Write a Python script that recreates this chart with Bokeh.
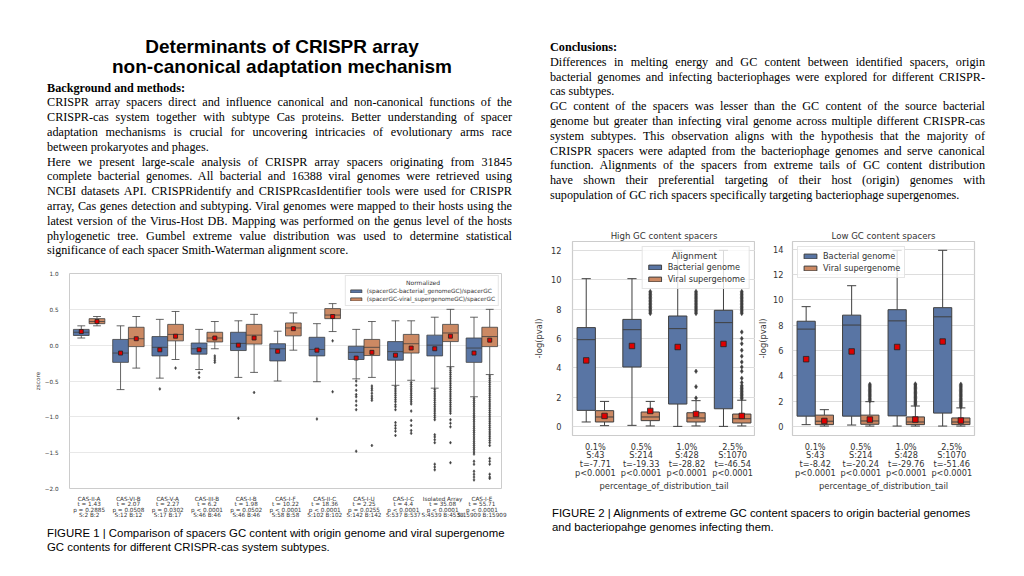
from bokeh.plotting import figure
from bokeh.models import Range1d, FixedTicker, Div, Legend, LegendItem, ColumnDataSource
from bokeh.layouts import row, column
from bokeh.embed import file_html
from bokeh.resources import INLINE

# ---------------- Figure 1 data ----------------
f1_names = ["CAS-II-A", "CAS-VI-B", "CAS-V-A", "CAS-III-B", "CAS-I-B", "CAS-I-F",
            "CAS-II-C", "CAS-I-U", "CAS-I-C", "Isolated Array", "CAS-I-E"]
f1_t = ["1.43", "2.07", "2.27", "6.2", "1.98", "10.22", "18.36", "2.25", "4.4", "35.08", "55.71"]
f1_p = ["= 0.2885", "= 0.0508", "= 0.0302", "< 0.0001", "= 0.0502", "< 0.0001",
        "< 0.0001", "= 0.0255", "< 0.0001", "< 0.0001", "< 0.0001"]
f1_n = [2, 12, 17, 46, 46, 58, 102, 142, 537, 4539, 15909]

bact_lo = [0.10, -0.62, -0.46, -0.34, -0.45, -0.50, -0.51, -0.47, -0.56, -0.60, -0.72]
bact_q1 = [0.135, -0.24, -0.15, -0.125, -0.075, -0.22, -0.15, -0.20, -0.21, -0.15, -0.24]
bact_med = [0.18, -0.11, -0.03, -0.05, 0.025, -0.05, -0.06, -0.10, -0.09, 0.0, -0.04]
bact_q3 = [0.22, 0.08, 0.12, 0.03, 0.18, 0.02, 0.11, -0.015, 0.05, 0.14, 0.10]
bact_hi = [0.27, 0.27, 0.36, 0.22, 0.34, 0.195, 0.30, 0.22, 0.34, 0.39, 0.39]
bact_mean = [0.19, -0.11, -0.065, -0.065, 0.0, -0.085, -0.07, -0.18, -0.14, -0.05, -0.11]
bact_out = [
    [], [], [-0.61], [-0.385, -0.45], [-1.02], [], [-1.03],
    [-0.50, -0.56, -0.63, -0.69, -0.72, -0.78, -0.84, -0.90, -1.48],
    [-0.58, -0.61, -0.64, -0.67, -0.70, -0.73, -0.76, -0.79, -0.83, -0.86, -0.90,
     -1.08, -1.12, -1.16, -1.20, -1.26],
    [-0.62, -0.65, -0.68, -0.71, -0.74, -0.77, -0.80, -0.83, -0.86, -0.89, -0.92,
     -0.95, -0.98, -1.01, -1.04, -1.25, -1.28, -1.32, -1.36, -1.66, -1.70, -1.74],
    [-0.74, -0.77, -0.80, -0.83, -0.86, -0.89, -0.92, -0.95, -0.98, -1.01, -1.04,
     -1.07, -1.10, -1.13, -1.16, -1.19, -1.22, -1.25, -1.28, -1.31, -1.34, -1.37,
     -1.40, -1.43, -1.46, -1.49, -1.52, -1.62, -1.66, -1.76, -1.80, -1.84, -1.88],
]

vir_lo = [0.27, -0.32, -0.20, -0.05, -0.38, -0.07, 0.19, -0.45, -0.49, -0.30, -0.41]
vir_q1 = [0.30, -0.02, 0.06, 0.045, 0.015, 0.13, 0.37, -0.145, -0.11, 0.05, -0.02]
vir_med = [0.33, 0.09, 0.15, 0.10, 0.14, 0.24, 0.42, -0.03, 0.02, 0.17, 0.12]
vir_q3 = [0.37, 0.25, 0.29, 0.18, 0.29, 0.31, 0.51, 0.08, 0.15, 0.29, 0.25]
vir_hi = [0.40, 0.40, 0.47, 0.33, 0.43, 0.45, 0.58, 0.33, 0.34, 0.50, 0.50]
vir_mean = [0.33, 0.09, 0.125, 0.10, 0.10, 0.23, 0.40, -0.10, -0.04, 0.125, 0.07]
vir_out = [
    [], [], [-0.32], [-0.15, -0.18, -0.21, -0.24], [-0.66], [], [0.06, -0.65],
    [-0.57, -0.60, -0.63, -0.67, -0.71, -0.74, -0.77, -1.40],
    [-0.52, -0.55, -0.58, -0.61, -0.64, -0.67, -0.70, -0.73, -0.76, -0.79, -0.82,
     -0.92, -1.05, -1.12, -1.19, -1.23],
    [-0.32, -0.35, -0.38, -0.41, -0.44, -0.47, -0.50, -0.53, -0.56, -0.59, -0.62,
     -0.65, -0.68, -0.71, -0.74, -0.77, -0.80, -0.83, -0.86, -0.89, -0.92, -0.95,
     -1.04, -1.09, -1.14, -1.36, -1.64],
    [-0.43, -0.46, -0.49, -0.52, -0.55, -0.58, -0.61, -0.64, -0.67, -0.70, -0.73,
     -0.76, -0.79, -0.82, -0.85, -0.88, -0.91, -0.94, -0.97, -1.00, -1.03, -1.06,
     -1.09, -1.12, -1.15, -1.18, -1.21, -1.24, -1.27, -1.30, -1.33, -1.36, -1.40,
     -1.58, -1.62, -1.66, -1.80, -1.84, -1.86],
]
f1_yticks = [-2.0, -1.5, -1.0, -0.5, 0.0, 0.5, 1.0]
f1_ytick_labels = ["\u22122.0", "\u22121.5", "\u22121.0", "\u22120.5", "0.0", "0.5", "1.0"]
f1_legend_title = "Normalized"
f1_legend = ["(spacerGC-bacterial_genomeGC)/spacerGC", "(spacerGC-viral_supergenomeGC)/spacerGC"]

# ---------------- Figure 2 data ----------------
tails = ["0.1%", "0.5%", "1.0%", "2.5%"]
tail_S = [43, 214, 428, 1070]
high_t = ["-7.71", "-19.33", "-28.82", "-46.54"]
low_t = ["-8.42", "-20.24", "-29.76", "-51.46"]
tail_p = ["<0.0001", "<0.0001", "<0.0001", "<0.0001"]

hb_lo = [0.32, 0.09, 0.02, 0.02]
hb_q1 = [1.11, 4.06, 1.54, 1.22]
hb_med = [5.92, 6.60, 6.67, 7.08]
hb_q3 = [6.74, 7.30, 7.53, 7.92]
hb_hi = [10.07, 10.07, 12.0, 12.0]
hb_mean = [4.51, 5.49, 5.42, 5.63]
hb_out = [[], [], [], []]

hv_lo = [0.07, 0.05, 0.05, 0.05]
hv_q1 = [0.32, 0.41, 0.32, 0.25]
hv_med = [0.66, 0.66, 0.59, 0.54]
hv_q3 = [1.09, 1.00, 0.95, 0.86]
hv_hi = [1.72, 1.72, 1.77, 1.80]
hv_mean = [0.73, 1.07, 0.86, 0.73]
hv_out = [
    [],
    [7.7, 7.8, 7.9, 8.0, 8.1, 8.2, 8.3, 8.4, 8.5, 8.6, 8.7, 8.8, 8.9, 9.0, 9.1, 9.2],
    [1.95, 2.72, 3.77, 7.7, 7.8, 7.9, 8.0, 8.1, 8.2, 8.3, 8.4, 8.5, 8.6, 8.7, 8.8,
     8.9, 9.0, 9.1, 9.2],
    [1.9, 2.0, 2.1, 2.2, 2.3, 2.4, 2.5, 2.6, 2.7, 2.8, 3.0, 3.3, 3.77, 4.06, 4.4,
     4.8, 5.2, 5.65, 6.0, 6.44, 7.7, 7.8, 7.9, 8.0, 8.1, 8.2, 8.3, 8.4, 8.5, 8.6,
     8.7, 8.8, 8.9, 9.0, 9.1, 9.2],
]

lb_lo = [0.16, 0.13, 0.05, 0.05]
lb_q1 = [0.83, 0.83, 0.85, 1.07]
lb_med = [7.69, 8.01, 8.34, 8.66]
lb_q3 = [8.31, 8.79, 9.22, 9.38]
lb_hi = [9.46, 11.11, 13.9, 13.9]
lb_mean = [5.32, 5.93, 6.28, 6.71]
lb_out = [[], [], [], []]

lv_lo = [0.05, 0.05, 0.05, 0.05]
lv_q1 = [0.16, 0.19, 0.16, 0.16]
lv_med = [0.43, 0.45, 0.37, 0.37]
lv_q3 = [0.91, 0.91, 0.77, 0.69]
lv_hi = [1.34, 1.97, 1.63, 1.48]
lv_mean = [0.45, 0.56, 0.56, 0.48]
lv_out = [
    [],
    [2.05, 2.15, 2.25, 2.35, 2.45, 2.55, 2.65, 2.75, 2.85, 2.95, 3.05, 3.15, 3.25, 3.35],
    [1.72, 1.8, 1.9, 2.0, 2.1, 2.2, 2.3, 2.4, 2.5, 2.6, 2.7, 2.8, 2.9, 3.0, 3.1,
     3.2, 3.3, 3.37],
    [1.55, 1.65, 1.75, 1.85, 1.95, 2.05, 2.15, 2.25, 2.35, 2.45, 2.55, 2.65, 2.75,
     2.85, 2.95, 3.05, 3.15, 3.25, 3.35],
]
f2_legend_title = "Alignment"
f2_legend = ["Bacterial genome", "Viral supergenome"]

# ---------------- Texts ----------------
title_lines = ["Determinants of CRISPR array", "non-canonical adaptation mechanism"]
bg_head = "Background and methods:"
bg_pars = [
    ["CRISPR array spacers direct and influence canonical and non-canonical functions of the",
     "CRISPR-cas system together with subtype Cas proteins. Better understanding of spacer",
     "adaptation mechanisms is crucial for uncovering intricacies of evolutionary arms race",
     "between prokaryotes and phages."],
    ["Here we present large-scale analysis of CRISPR array spacers originating from 31845",
     "complete bacterial genomes. All bacterial and 16388 viral genomes were retrieved using",
     "NCBI datasets API. CRISPRidentify and CRISPRcasIdentifier tools were used for CRISPR",
     "array, Cas genes detection and subtyping. Viral genomes were mapped to their hosts using the",
     "latest version of the Virus-Host DB. Mapping was performed on the genus level of the hosts",
     "phylogenetic tree. Gumbel extreme value distribution was used to determine statistical",
     "significance of each spacer Smith-Waterman alignment score."],
]
con_head = "Conclusions:"
con_pars = [
    ["Differences in melting energy and GC content between identified spacers, origin",
     "bacterial genomes and infecting bacteriophages were explored for different CRISPR-",
     "cas subtypes."],
    ["GC content of the spacers was lesser than the GC content of the source bacterial",
     "genome but greater than infecting viral genome across multiple different CRISPR-cas",
     "system subtypes. This observation aligns with the hypothesis that the majority of",
     "CRISPR spacers were adapted from the bacteriophage genomes and serve canonical",
     "function. Alignments of the spacers from extreme tails of GC content distribution",
     "have shown their preferential targeting of their host (origin) genomes with",
     "supopulation of GC rich spacers specifically targeting bacteriophage supergenomes."],
]
cap1_lines = ["FIGURE 1 | Comparison of spacers GC content with origin genome and viral supergenome",
              "GC contents for different CRISPR-cas system subtypes."]
cap2_lines = ["FIGURE 2 | Alignments of extreme GC content spacers to origin bacterial genomes",
              "and bacteriopahge genomes infecting them."]

FONT = "DejaVu Sans"
BLUE = "#5975a4"
ORANGE = "#cc8963"
EDGE = "#3f3f3f"
SERIF = "'Liberation Serif','Times New Roman',serif"
SANS = "'Liberation Sans',Arial,sans-serif"
NBSP = "\u00a0"


def draw_boxes(p, off, width, lo, q1, med, q3, hi, mean, outs, color, lw, cap_w, out_size, mean_size):
    xs = [i + off for i in range(len(lo))]
    src = ColumnDataSource(dict(
        x=xs, left=[x - width / 2 for x in xs], right=[x + width / 2 for x in xs],
        cl=[x - cap_w / 2 for x in xs], cr=[x + cap_w / 2 for x in xs],
        lo=lo, q1=q1, med=med, q3=q3, hi=hi, mean=mean))
    kw = dict(source=src, line_color=EDGE, line_width=lw)
    p.segment('x', 'q3', 'x', 'hi', **kw)
    p.segment('x', 'lo', 'x', 'q1', **kw)
    p.segment('cl', 'hi', 'cr', 'hi', **kw)
    p.segment('cl', 'lo', 'cr', 'lo', **kw)
    box = p.quad(left='left', right='right', bottom='q1', top='q3', fill_color=color, **kw)
    p.segment('left', 'med', 'right', 'med', **kw)
    ox = [x for x, o in zip(xs, outs) for _ in o]
    oy = [v for o in outs for v in o]
    p.scatter(x=ox, y=oy, marker='diamond', size=out_size, fill_color=EDGE, line_color=EDGE, line_width=0.5)
    p.scatter('x', 'mean', source=src, marker='square', size=mean_size,
              fill_color='#e00000', line_color='#222222', line_width=0.8)
    return box


def style(p, tick_size, grid_color, lh):
    p.background_fill_color = "white"
    p.border_fill_color = "white"
    p.outline_line_color = "#cccccc"
    p.outline_line_width = 1
    p.xgrid.visible = False
    p.ygrid.grid_line_color = grid_color
    p.ygrid.grid_line_width = 1
    for ax in p.axis:
        ax.axis_line_color = None
        ax.major_tick_line_color = None
        ax.minor_tick_line_color = None
        ax.major_label_text_font = FONT
        ax.major_label_text_font_size = tick_size
        ax.major_label_text_color = "#333333"
        ax.major_label_text_line_height = lh
        ax.axis_label_text_font = FONT
        ax.axis_label_text_font_style = "normal"
        ax.axis_label_text_color = "#333333"
        ax.axis_label_text_font_size = tick_size


def style_legend(leg, title_size, label_size):
    leg.title_text_font = FONT
    leg.title_text_font_size = title_size
    leg.title_text_font_style = "normal"
    leg.title_text_color = "#333333"
    leg.title_standoff = 1
    leg.label_text_font = FONT
    leg.label_text_font_size = label_size
    leg.label_text_color = "#333333"
    leg.border_line_color = "#cccccc"
    leg.background_fill_alpha = 0.8


# ---------------- Figure 1 ----------------
n1 = len(f1_names)
p1 = figure(width=496, height=258, x_range=Range1d(-0.5, n1 - 0.5), y_range=Range1d(-2.0, 1.0),
            output_backend="svg", toolbar_location=None,
            min_border_left=53, min_border_right=11, min_border_top=8, min_border_bottom=35,
            margin=(6, 0, 0, 8))
style(p1, "5.7px", "#e8e8e8", 0.92)
p1.xaxis.ticker = FixedTicker(ticks=list(range(n1)))
p1.xaxis.major_label_overrides = {
    i: f"{f1_names[i]}\nt = {f1_t[i]}\np {f1_p[i]}\nS:{f1_n[i]} B:{f1_n[i]}" for i in range(n1)}
p1.xaxis.major_label_standoff = 1
p1.yaxis.ticker = FixedTicker(ticks=f1_yticks)
p1.yaxis.major_label_overrides = {v: s for v, s in zip(f1_yticks, f1_ytick_labels)}
p1.yaxis.major_label_standoff = 5
p1.yaxis.axis_label = "zscore"
p1.yaxis.axis_label_standoff = 1

b1 = draw_boxes(p1, -0.2, 0.4, bact_lo, bact_q1, bact_med, bact_q3, bact_hi, bact_mean, bact_out,
                BLUE, 0.8, 0.2, 3, 4)
v1 = draw_boxes(p1, 0.2, 0.4, vir_lo, vir_q1, vir_med, vir_q3, vir_hi, vir_mean, vir_out,
                ORANGE, 0.8, 0.2, 3, 4)
leg1 = Legend(items=[LegendItem(label=f1_legend[0], renderers=[b1]),
                     LegendItem(label=f1_legend[1], renderers=[v1])],
              title=NBSP * 30 + f1_legend_title, location="top_right")
style_legend(leg1, "6px", "5.8px")
leg1.glyph_width = 14
leg1.glyph_height = 4
leg1.label_height = 7
leg1.label_standoff = 4
leg1.spacing = 1
leg1.padding = 3
leg1.margin = 2
p1.add_layout(leg1)


# ---------------- Figure 2 ----------------
def make_f2(width, y_top, yticks, title, t_vals, b_stats, v_stats, bl, br, legend_loc, legend_title,
            lab_standoff, ax_standoff):
    p = figure(width=width, height=265, x_range=Range1d(-0.5, 3.5), y_range=Range1d(-0.05 * y_top, 1.05 * y_top),
               output_backend="svg", toolbar_location=None,
               min_border_left=bl, min_border_right=br, min_border_top=13, min_border_bottom=58,
               title=title)
    style(p, "8.2px", "#dddddd", 0.88)
    p.outline_line_width = 1.2
    p.title.align = "center"
    p.title.text_font = FONT
    p.title.text_font_size = "8.6px"
    p.title.text_font_style = "normal"
    p.title.text_color = "#333333"
    p.title.standoff = 1
    p.xaxis.ticker = FixedTicker(ticks=[0, 1, 2, 3])
    p.xaxis.major_label_overrides = {
        i: f"{tails[i]}\nS:{tail_S[i]}\nt={t_vals[i]}\np{tail_p[i]}" for i in range(4)}
    p.xaxis.major_label_standoff = 0
    p.xaxis.axis_label = "percentage_of_distribution_tail"
    p.xaxis.axis_label_standoff = 0
    p.xaxis.axis_label_text_font_size = "8.4px"
    p.yaxis.ticker = FixedTicker(ticks=yticks)
    p.yaxis.major_label_standoff = lab_standoff
    p.yaxis.axis_label = "-log(pval)"
    p.yaxis.axis_label_standoff = ax_standoff
    p.yaxis.axis_label_text_font_size = "8.4px"
    b = draw_boxes(p, -0.2, 0.4, *b_stats, BLUE, 1.0, 0.2, 4.5, 5.5)
    v = draw_boxes(p, 0.2, 0.4, *v_stats, ORANGE, 1.0, 0.2, 4.5, 5.5)
    leg = Legend(items=[LegendItem(label=f2_legend[0], renderers=[b]),
                        LegendItem(label=f2_legend[1], renderers=[v])],
                 location=legend_loc)
    if legend_title:
        leg.title = NBSP * 9 + legend_title
    style_legend(leg, "8.8px", "8.2px")
    leg.glyph_width = 16
    leg.glyph_height = 6
    leg.label_height = 10
    leg.label_standoff = 5
    leg.spacing = 2
    leg.padding = 4
    leg.margin = 5
    p.add_layout(leg)
    return p


p2a = make_f2(230, 12.0, [0, 2, 4, 6, 8, 10, 12], "High GC content spacers", high_t,
              (hb_lo, hb_q1, hb_med, hb_q3, hb_hi, hb_mean, hb_out),
              (hv_lo, hv_q1, hv_med, hv_q3, hv_hi, hv_mean, hv_out),
              47, 0, "top_right", f2_legend_title, 5, 4)
p2a.margin = (25, 0, 0, 13)
p2b = make_f2(235, 13.9, [0, 2, 4, 6, 8, 10, 12, 14], "Low GC content spacers", low_t,
              (lb_lo, lb_q1, lb_med, lb_q3, lb_hi, lb_mean, lb_out),
              (lv_lo, lv_q1, lv_med, lv_q3, lv_hi, lv_mean, lv_out),
              29, 16, "top_left", None, 3, 2)
p2b.margin = (25, 0, 0, 0)


# ---------------- Text blocks ----------------
def par_html(pars):
    out = []
    for lines in pars:
        for k, ln in enumerate(lines):
            if k < len(lines) - 1:
                out.append(f'<div style="text-align:justify;text-align-last:justify;white-space:nowrap">{ln}</div>')
            else:
                out.append(f'<div style="text-align:left;white-space:nowrap">{ln}</div>')
    return "".join(out)


left_html = (
    f'<div style="width:465px;color:#000">'
    f'<div style="font-family:{SANS};font-weight:bold;font-size:19px;line-height:20px;text-align:center;padding-left:5px">'
    f'{title_lines[0]}<br>{title_lines[1]}</div>'
    f'<div style="font-family:{SERIF};font-size:12.2px;line-height:14.8px;margin-top:3.6px">'
    f'<div style="font-weight:bold">{bg_head}</div>{par_html(bg_pars)}</div></div>'
)
right_html = (
    f'<div style="width:435px;color:#000;font-family:{SERIF};font-size:12.2px;line-height:14.8px">'
    f'<div style="font-weight:bold">{con_head}</div>{par_html(con_pars)}</div>'
)
cap1_html = (f'<div style="font-family:{SANS};font-size:11.4px;line-height:14px;color:#000;white-space:nowrap">'
             f'{cap1_lines[0]}<br>{cap1_lines[1]}</div>')
cap2_html = (f'<div style="font-family:{SANS};font-size:11.4px;line-height:14px;color:#000;white-space:nowrap">'
             f'{cap2_lines[0]}<br>{cap2_lines[1]}</div>')

div_left = Div(text=left_html, width=465, height=222, margin=(29, 0, 0, 39))
div_right = Div(text=right_html, width=440, height=163, margin=(32, 0, 0, 38))
div_cap1 = Div(text=cap1_html, width=465, height=28, margin=(3, 0, 0, 39))
div_cap2 = Div(text=cap2_html, width=440, height=28, margin=(13, 0, 0, 40))

left_col = column(div_left, p1, div_cap1, spacing=0)
right_col = column(div_right, row(p2a, p2b, spacing=0), div_cap2, spacing=0)
root = row(left_col, right_col, spacing=0, margin=(8, 0, 0, 8))

open("out.html", "w").write(file_html(root, INLINE))
